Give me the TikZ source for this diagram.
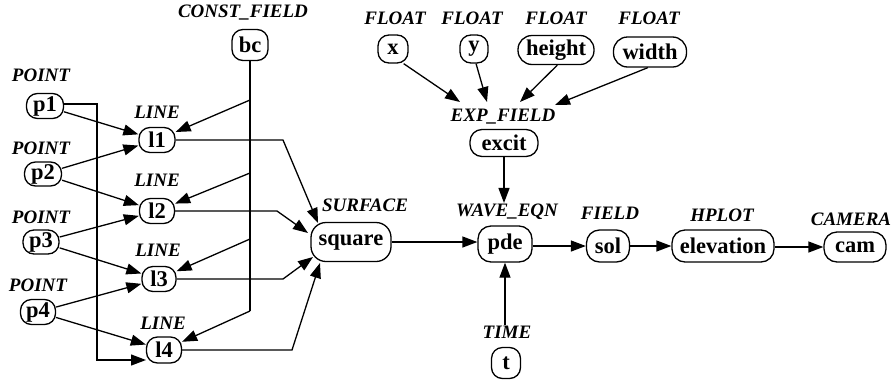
\documentclass[tikz,border=0pt]{standalone}
\usepackage{fontspec}
\setmainfont{Liberation Serif}
\usetikzlibrary{arrows.meta}
\tikzset{
 nd/.style={draw, line width=1.3pt, rounded corners=11pt, inner sep=0pt, font=\bfseries\fontsize{22.5}{24}\selectfont},
 lb/.style={inner sep=1pt, font=\bfseries\itshape\fontsize{19}{21}\selectfont},
 arr/.style={line width=1.3pt, -{Triangle[length=15pt,width=11pt]}},
 ln/.style={line width=1.3pt},
}
\begin{document}
\begin{tikzpicture}[x=1pt,y=-1pt]
\useasboundingbox (0,0) rectangle (893,386);
% labels
\node[lb] (lbc) at (243,13) {CONST\_FIELD};
\node[lb] (lp1) at (41,75) {POINT};
\node[lb] (lp2) at (41,148) {POINT};
\node[lb] (lp3) at (41,217) {POINT};
\node[lb] (lp4) at (38,285) {POINT};
\node[lb] (ll1) at (157,112) {LINE};
\node[lb] (ll2) at (157,180) {LINE};
\node[lb] (ll3) at (158,250) {LINE};
\node[lb] (ll4) at (163,323) {LINE};
\node[lb] (lx) at (395,18) {FLOAT};
\node[lb] (ly) at (472,18) {FLOAT};
\node[lb] (lh) at (556,18) {FLOAT};
\node[lb] (lw) at (649,18) {FLOAT};
\node[lb] (lex) at (503,117) {EXP\_FIELD};
\node[lb] (lsq) at (365,205) {SURFACE};
\node[lb] (lpde) at (507,212) {WAVE\_EQN};
\node[lb] (lsol) at (610,213) {FIELD};
\node[lb] (lel) at (722,215) {HPLOT};
\node[lb] (lcam) at (851,219) {CAMERA};
\node[lb] (lt) at (507,332) {TIME};
% nodes
\node[nd, minimum width=36pt, minimum height=31pt] (bc) at (250,45) {bc};
\node[nd, minimum width=37pt, minimum height=25pt] (p1) at (45,106) {p1};
\node[nd, minimum width=37pt, minimum height=24pt] (p2) at (43,174) {p2};
\node[nd, minimum width=36pt, minimum height=24pt] (p3) at (41,242) {p3};
\node[nd, minimum width=35pt, minimum height=25pt] (p4) at (38,312) {p4};
\node[nd, minimum width=36pt, minimum height=25pt] (l1) at (157,140) {l1};
\node[nd, minimum width=35pt, minimum height=25pt] (l2) at (157,211) {l2};
\node[nd, minimum width=34pt, minimum height=25pt] (l3) at (159,279) {l3};
\node[nd, minimum width=35pt, minimum height=26pt] (l4) at (164,350) {l4};
\node[nd, minimum width=30pt, minimum height=28pt] (x) at (393,49) {x};
\node[nd, minimum width=28pt, minimum height=28pt] (y) at (474,49) {y};
\node[nd, rounded corners=14pt, minimum width=76pt, minimum height=29pt] (height) at (556,50) {height};
\node[nd, rounded corners=14pt, minimum width=73pt, minimum height=30pt] (width) at (650,52) {width};
\node[nd, rounded corners=12pt, minimum width=68pt, minimum height=27pt] (excit) at (504,143) {excit};
\node[nd, rounded corners=15pt, minimum width=80pt, minimum height=39pt] (square) at (351,242) {square};
\node[nd, rounded corners=13pt, minimum width=54pt, minimum height=36pt] (pde) at (505,244) {pde};
\node[nd, rounded corners=13pt, minimum width=43pt, minimum height=32pt] (sol) at (608,246) {sol};
\node[nd, rounded corners=13pt, minimum width=102pt, minimum height=32pt] (elevation) at (723,246) {elevation};
\node[nd, rounded corners=13pt, minimum width=62pt, minimum height=30pt] (cam) at (855,247) {cam};
\node[nd, minimum width=29pt, minimum height=31pt] (t) at (506,363) {t};
% coordinates
\coordinate (c1a) at (97,104);
\coordinate (c1b) at (97,360);
\coordinate (t14) at (146,360);
\coordinate (b1) at (250,100);
\coordinate (b2) at (250,173);
\coordinate (b3) at (250,239);
\coordinate (b4) at (250,311);
\coordinate (s1) at (283,141);
\coordinate (s1t) at (318,223);
\coordinate (s2) at (277,211);
\coordinate (s2t) at (308,233);
\coordinate (s3) at (283,279);
\coordinate (s3t) at (313,257);
\coordinate (s4) at (292,350);
\coordinate (s4t) at (320,263);
\coordinate (ex1) at (460,102);
\coordinate (ex2) at (487,102);
\coordinate (ex3) at (520,102);
\coordinate (ex4) at (555,105);
% point -> line
\draw[arr] (p1) -- (l1);
\draw[arr] (p2) -- (l1);
\draw[arr] (p2) -- (l2);
\draw[arr] (p3) -- (l2);
\draw[arr] (p3) -- (l3);
\draw[arr] (p4) -- (l3);
\draw[arr] (p4) -- (l4);
\draw[arr] (p1.east |- c1a) -- (c1a) -- (c1b) -- (t14);
% bc
\draw[ln] (bc) -- (b4);
\draw[arr] (b1) -- (l1);
\draw[arr] (b2) -- (l2);
\draw[arr] (b3) -- (l3);
\draw[arr] (b4) -- (l4);
% lines -> square
\draw[arr] (l1.east) -- (l1.east -| s1) -- (s1t);
\draw[arr] (l2.east) -- (l2.east -| s2) -- (s2t);
\draw[arr] (l3.east) -- (l3.east -| s3) -- (s3t);
\draw[arr] (l4.east) -- (l4.east -| s4) -- (s4t);
% floats -> excit
\draw[arr] (x.-54) -- (ex1);
\draw[arr] (y.-82) -- (ex2);
\draw[arr] (height.-85) -- (ex3);
\draw[arr] (width.-98) -- (ex4);
% chain
\draw[arr] (excit.south) -- (excit.south |- lpde.north);
\draw[arr] (lt.north -| pde) -- (pde.south);
\draw[arr] (square) -- (square -| pde.west);
\draw[arr] (pde.east |- sol) -- (sol.west);
\draw[arr] (sol) -- (elevation);
\draw[arr] (elevation.east |- cam) -- (cam.west);
\end{tikzpicture}
\end{document}
